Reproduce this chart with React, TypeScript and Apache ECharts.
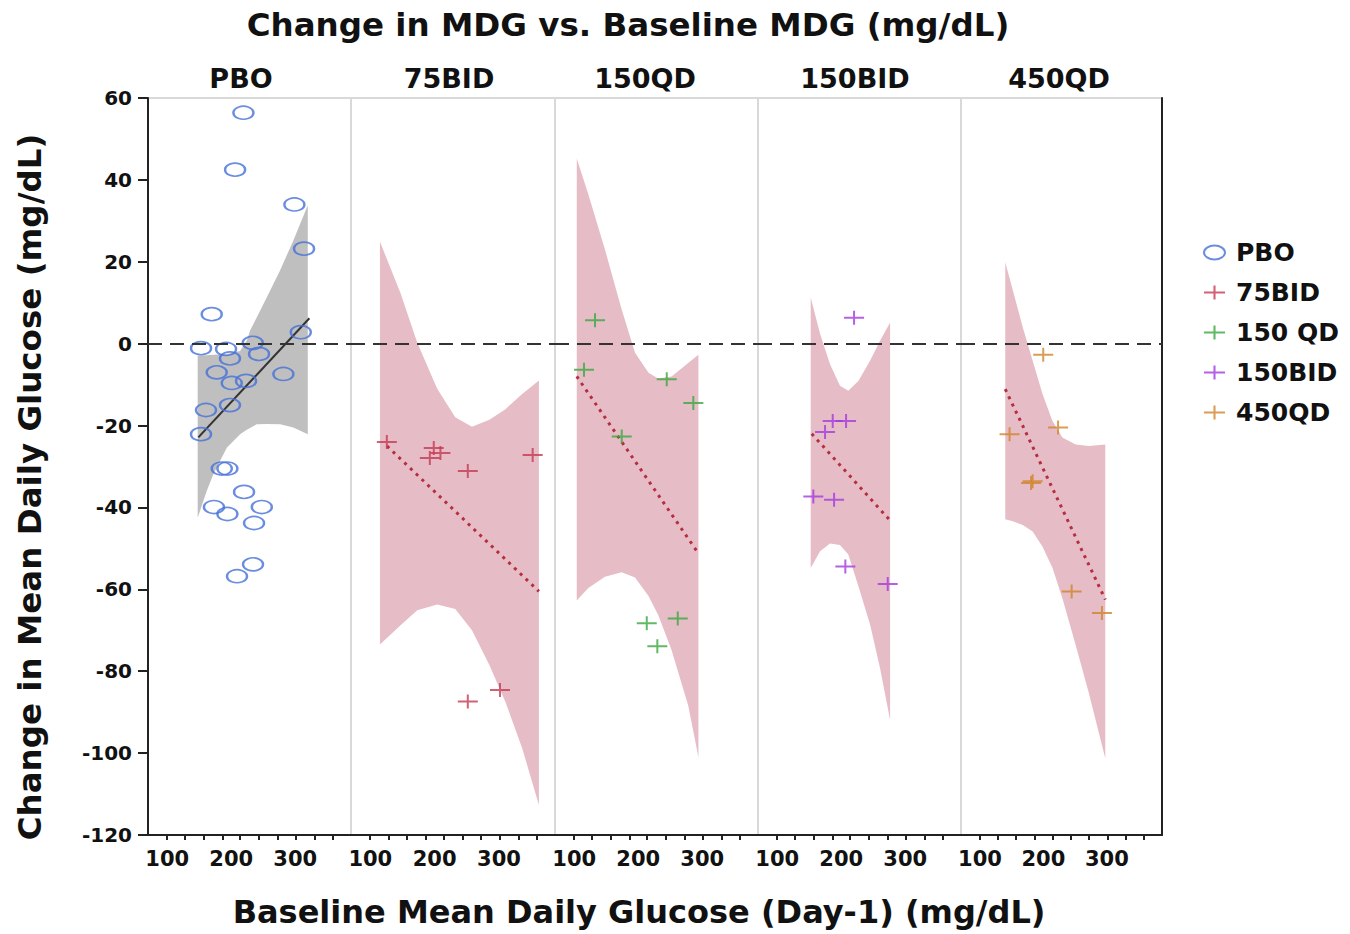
import React, { useEffect, useRef } from "react";
import * as echarts from "echarts";

// ---------- DATA ----------
const PANEL_TITLES = ["PBO", "75BID", "150QD", "150BID", "450QD"];
const LEGEND_NAMES = ["PBO", "75BID", "150 QD", "150BID", "450QD"];
const COLORS = ["#4570d8", "#c63a52", "#3aa83e", "#a43ade", "#d0842c"];

const X_TICKS = [99, 128, 157, 186, 214, 243, 272, 301, 330, 358];
const X_LABELS = [100, 200, 300];

// PBO
const PBO_X = [219, 206, 298.6, 313.7, 169.5, 152.8, 191.9, 233.6, 308.6, 198, 243.4, 177.3, 281.4, 200.8, 223.1, 160.6, 198, 152.8, 185.2, 194, 220, 173, 194, 247.7, 235.6, 209, 234];
const PBO_Y = [56.4, 42.5, 34.0, 23.2, 7.2, -1.1, -1.3, 0.2, 2.8, -3.6, -2.5, -7.0, -7.4, -9.6, -9.1, -16.2, -15.0, -22.1, -30.5, -30.5, -36.2, -39.9, -41.6, -39.9, -43.8, -56.8, -53.9];
const PBO_FIT_X = [148.6, 322];
const PBO_FIT_Y = [-22.9, 6.2];
const PBO_BAND_X = [147.6, 161.7, 172, 193, 213.8, 224.2, 229.4, 239.8, 255.4, 276.2, 297, 319.5];
const PBO_BAND_HI = [-2.9, -2.8, -2.7, -2.5, -1.8, 0.7, 3.2, 6.4, 11.3, 17.9, 25.2, 33.8];
const PBO_BAND_LO = [-42.5, -36, -31.9, -25.4, -22.1, -21, -20.6, -19.7, -19.6, -19.7, -20.5, -22.1];

// 75BID
const BID75_X = [125.7, 198.6, 209, 192.5, 251.5, 352.3, 251.5, 301.5];
const BID75_Y = [-24.0, -25.5, -26.7, -27.9, -31.1, -27.2, -87.4, -84.6];
const BID75_FIT_X = [126, 362];
const BID75_FIT_Y = [-25, -60.5];
const BID75_BAND_X = [115, 147, 173, 204, 232, 258, 285, 310, 336, 362];
const BID75_BAND_HI = [24.9, 12.3, 0.2, -11, -18, -20.3, -18.6, -16, -12.3, -9];
const BID75_BAND_LO = [-73.5, -68.8, -65.1, -63.7, -64.8, -70, -78.5, -87.5, -98.8, -112.7];

// 150QD
const QD150_X = [132.5, 115.3, 244.5, 286, 174.2, 213.3, 261.7, 229.8];
const QD150_Y = [5.7, -6.4, -8.7, -14.5, -22.7, -68.3, -67.1, -73.9];
const QD150_FIT_X = [104, 293];
const QD150_FIT_Y = [-8, -51];
const QD150_BAND_X = [104, 122, 148, 174, 195, 216, 231, 252, 278, 294];
const QD150_BAND_HI = [45.2, 36.5, 23, 8.4, -2.2, -7.1, -8.5, -8, -4.7, -2.7];
const QD150_BAND_LO = [-62.7, -59.7, -56.9, -55.8, -57.1, -61.6, -66.2, -74.8, -88.4, -101];

// 150BID
const BID150_X = [220, 186.7, 207.5, 174.7, 156.4, 188.8, 206.4, 272.6];
const BID150_Y = [6.3, -18.9, -18.9, -21.6, -37.3, -38.1, -54.4, -58.7];
const BID150_FIT_X = [153.9, 276.3];
const BID150_FIT_Y = [-22, -43.2];
const BID150_BAND_X = [152.3, 166.9, 182.5, 198, 211, 226.7, 245, 260.6, 276.3];
const BID150_BAND_HI = [11.3, 2.4, -5, -10.3, -11.5, -9.1, -4.2, 0.7, 5.2];
const BID150_BAND_LO = [-54.8, -50.7, -48.8, -49.2, -51.5, -59.2, -68.6, -79.3, -91.9];

// 450QD
const QD450_X = [199.7, 223.1, 146.6, 183, 180.5, 244.5, 292.3];
const QD450_Y = [-2.7, -20.5, -22.1, -33.6, -34.0, -60.5, -65.8];
const QD450_FIT_X = [139.8, 297.6];
const QD450_FIT_Y = [-11.1, -62.5];
const QD450_BAND_X = [139.8, 151.8, 167.4, 183, 198.6, 214.2, 229.8, 250.8, 271.6, 297.6];
const QD450_BAND_HI = [19.9, 13, 4, -4.2, -12.3, -18.9, -22.9, -24.6, -25, -24.6];
const QD450_BAND_LO = [-42.9, -43.4, -44.3, -45.9, -49.6, -54.7, -62.1, -73.6, -85.3, -101.3];

const PANELS = [
  { x: PBO_X, y: PBO_Y, fx: PBO_FIT_X, fy: PBO_FIT_Y, bx: PBO_BAND_X, hi: PBO_BAND_HI, lo: PBO_BAND_LO },
  { x: BID75_X, y: BID75_Y, fx: BID75_FIT_X, fy: BID75_FIT_Y, bx: BID75_BAND_X, hi: BID75_BAND_HI, lo: BID75_BAND_LO },
  { x: QD150_X, y: QD150_Y, fx: QD150_FIT_X, fy: QD150_FIT_Y, bx: QD150_BAND_X, hi: QD150_BAND_HI, lo: QD150_BAND_LO },
  { x: BID150_X, y: BID150_Y, fx: BID150_FIT_X, fy: BID150_FIT_Y, bx: BID150_BAND_X, hi: BID150_BAND_HI, lo: BID150_BAND_LO },
  { x: QD450_X, y: QD450_Y, fx: QD450_FIT_X, fy: QD450_FIT_Y, bx: QD450_BAND_X, hi: QD450_BAND_HI, lo: QD450_BAND_LO },
];

// ---------- LAYOUT ----------
const FONT = "DejaVu Sans";
const GRID_LEFT = [148, 351, 555, 758, 961];
const GRID_W = [203, 204, 203, 203, 201];
const GRID_TOP = 98;
const GRID_H = 737;
const TITLE_X = [241, 449, 645, 855, 1059];
const PLUS = "path://M0,6H20V8H0Z M9,0H11V14H9Z";
const ELLIPSE = "path://M0,7A10,7 0 1,0 20,7A10,7 0 1,0 0,7Z";

function makeBand(xs: number[], lo: number[], hi: number[], fill: string) {
  return (params: any, api: any) => {
    if (params.dataIndex !== 0) return null;
    const pts: number[][] = [];
    for (let k = 0; k < xs.length; k++) pts.push(api.coord([xs[k], hi[k]]));
    for (let k = xs.length - 1; k >= 0; k--) pts.push(api.coord([xs[k], lo[k]]));
    return { type: "polygon", shape: { points: pts }, style: { fill } };
  };
}

export default function App() {
  const ref = useRef<HTMLDivElement>(null);
  useEffect(() => {
    document.body.style.margin = "0";
    const chart = echarts.init(ref.current!, null, { renderer: "svg" });

    const grid = GRID_LEFT.map((l, i) => ({
      left: l, top: GRID_TOP, width: GRID_W[i], height: GRID_H,
      show: true, borderColor: "#d9d9d9", borderWidth: 2, backgroundColor: "transparent",
    }));

    const xAxis = GRID_LEFT.map((_, i) => ({
      type: "value", gridIndex: i, min: 70, max: 387,
      axisLine: { show: true, onZero: false, lineStyle: { color: "#222", width: 2 } },
      axisTick: { show: true, customValues: X_TICKS, length: 5, lineStyle: { color: "#222", width: 2 } },
      axisLabel: { customValues: X_LABELS, fontFamily: FONT, fontWeight: "bold", fontSize: 21, color: "#111", margin: 13 },
      splitLine: { show: false },
    }));

    const yAxis = GRID_LEFT.map((_, i) => ({
      type: "value", gridIndex: i, min: -120, max: 60, interval: 20,
      position: i === 4 ? "right" : "left",
      axisLine: { show: i === 0 || i === 4, onZero: false, lineStyle: { color: "#222", width: 2 } },
      axisTick: { show: i === 0, length: 10, lineStyle: { color: "#222", width: 2 } },
      axisLabel: { show: i === 0, fontFamily: FONT, fontWeight: "bold", fontSize: 20, color: "#111", margin: 16 },
      splitLine: { show: false },
    }));

    const series: any[] = [];
    PANELS.forEach((p, i) => {
      const bandFill = i === 0 ? "#bfbfbf" : "#e6bdc6";
      series.push({
        type: "custom", xAxisIndex: i, yAxisIndex: i, silent: true, z: 1,
        data: p.bx.map((x, k) => [x, p.lo[k], p.hi[k]]),
        encode: { x: 0, y: [1, 2] },
        renderItem: makeBand(p.bx, p.lo, p.hi, bandFill),
      });
      series.push({
        type: "line", xAxisIndex: i, yAxisIndex: i, silent: true, z: 3,
        symbol: "none",
        data: p.fx.map((x, k) => [x, p.fy[k]]),
        lineStyle: i === 0
          ? { color: "#333", width: 2, type: "solid" }
          : { color: "#b52e40", width: 3, type: [3, 5] },
      });
      series.push({
        name: LEGEND_NAMES[i],
        type: "scatter", xAxisIndex: i, yAxisIndex: i, z: 4,
        symbol: i === 0 ? "circle" : PLUS,
        symbolSize: i === 0 ? [20, 13] : [20, 14],
        itemStyle: i === 0
          ? { color: "rgba(0,0,0,0)", borderColor: COLORS[0], borderWidth: 2 }
          : { color: COLORS[i] },
        data: p.x.map((x, k) => [x, p.y[k]]),
        markLine: {
          silent: true, symbol: "none", label: { show: false },
          lineStyle: { color: "#333", width: 2, type: [14, 8] },
          data: [{ yAxis: 0 }],
        },
      });
    });

    const textStyle = (size: number) => ({
      fontFamily: FONT, fontWeight: "bold", fontSize: size, fill: "#111",
      textAlign: "center", textVerticalAlign: "middle",
    });

    const graphic: any[] = [
      { type: "text", x: 628, y: 25, style: { text: "Change in MDG vs. Baseline MDG (mg/dL)", ...textStyle(32.5) } },
      { type: "text", x: 639, y: 912, style: { text: "Baseline Mean Daily Glucose (Day-1) (mg/dL)", ...textStyle(32) } },
      { type: "text", x: 30, y: 487, rotation: Math.PI / 2, style: { text: "Change in Mean Daily Glucose (mg/dL)", ...textStyle(32.5) } },
      ...PANEL_TITLES.map((t, i) => ({ type: "text", x: TITLE_X[i], y: 78, style: { text: t, ...textStyle(27) } })),
    ];

    chart.setOption({
      animation: false,
      backgroundColor: "#fff",
      grid, xAxis, yAxis, series, graphic,
      legend: {
        data: LEGEND_NAMES.map((n, i) => (i === 0
          ? { name: n, icon: ELLIPSE, itemStyle: { color: "rgba(0,0,0,0)", borderColor: COLORS[0], borderWidth: 2 } }
          : { name: n })),
        orient: "vertical", left: 1203, top: 240, padding: 0,
        itemWidth: 21, itemHeight: 14, itemGap: 15, symbolKeepAspect: false,
        textStyle: { fontFamily: FONT, fontWeight: "bold", fontSize: 25, color: "#111", padding: [0, 0, 0, 6] },
        selectedMode: false,
      },
    });
    return () => chart.dispose();
  }, []);
  return <div ref={ref} style={{ width: 1350, height: 934 }} />;
}
